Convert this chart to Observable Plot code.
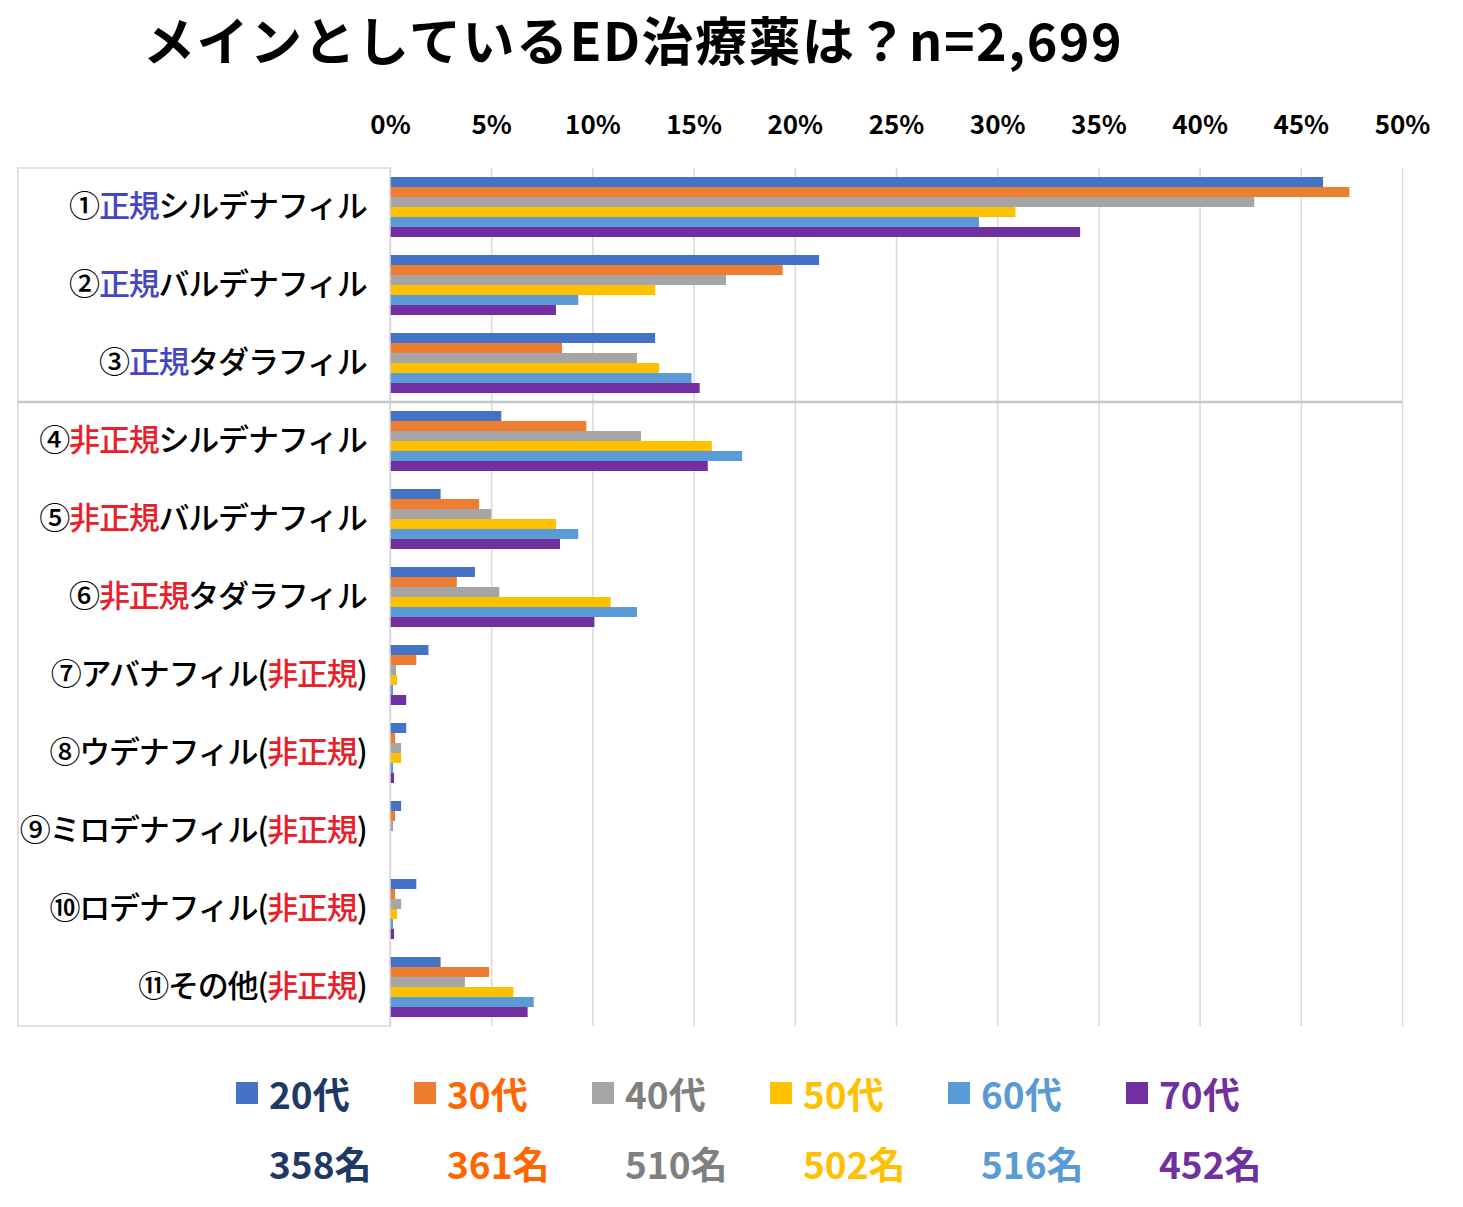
<!DOCTYPE html>
<html><head><meta charset="utf-8">
<script src="https://cdn.jsdelivr.net/npm/d3@7"></script>
<script src="https://cdn.jsdelivr.net/npm/@observablehq/plot@0.6"></script>
<style>
body{margin:0;background:#fff;font-family:"Noto Sans CJK JP",sans-serif;}
#wrap{position:relative;width:1463px;height:1207px;overflow:hidden;}
#title{position:absolute;left:143px;top:3px;font-size:52px;letter-spacing:1.5px;font-weight:700;white-space:nowrap;line-height:72px;color:#000;}
#chart{position:absolute;left:0;top:90px;line-height:0;}
#chart svg{display:block;}
.lg{position:absolute;font-weight:700;font-size:37px;line-height:50px;white-space:nowrap;}
.sq{position:absolute;width:22px;height:22px;}
</style></head>
<body><div id="wrap"><div id="title">メインとしているED治療薬は？n=2,699</div><div id="chart"></div><div id="legend"></div></div>
<script>
const categories = ["①正規シルデナフィル","②正規バルデナフィル","③正規タダラフィル","④非正規シルデナフィル","⑤非正規バルデナフィル","⑥非正規タダラフィル","⑦アバナフィル(非正規)","⑧ウデナフィル(非正規)","⑨ミロデナフィル(非正規)","⑩ロデナフィル(非正規)","⑪その他(非正規)"];
const ages = ["20代","30代","40代","50代","60代","70代"];
const counts = ["358名","361名","510名","502名","516名","452名"];
const v20 = [46.1,21.2,13.1,5.5,2.5,4.2,1.9,0.8,0.55,1.3,2.5];
const v30 = [47.4,19.4,8.5,9.7,4.4,3.3,1.3,0.25,0.25,0.25,4.9];
const v40 = [42.7,16.6,12.2,12.4,5.0,5.4,0.3,0.55,0.15,0.55,3.7];
const v50 = [30.9,13.1,13.3,15.9,8.2,10.9,0.35,0.55,0,0.35,6.1];
const v60 = [29.1,9.3,14.9,17.4,9.3,12.2,0.15,0.15,0,0.15,7.1];
const v70 = [34.1,8.2,15.3,15.7,8.4,10.1,0.8,0.2,0,0.2,6.8];
const xTicks = [0,5,10,15,20,25,30,35,40,45,50];
const barColors = ["#4472c4","#ed7d31","#a5a5a5","#ffc000","#5b9bd5","#7030a0"];
const textColors = ["#203864","#ff6600","#808080","#ffc000","#5b9bd5","#7030a0"];

const series = [v20,v30,v40,v50,v60,v70];
const data = [];
categories.forEach((c,i)=>ages.forEach((a,j)=>data.push({category:c, age:a, value:series[j][i]})));

const chart = Plot.plot({
  width:1463, height:945, marginLeft:390, marginRight:61, marginTop:73, marginBottom:5,
  style:{fontFamily:"'Noto Sans CJK JP', sans-serif", background:"#fff"},
  x:{domain:[0,50], label:null},
  fy:{domain:categories, padding:0, label:null},
  y:{domain:ages, padding:0, insetTop:8, insetBottom:8, axis:null},
  color:{domain:ages, range:barColors},
  marks:[
    Plot.gridX(xTicks, {stroke:"#d9d9d9", strokeOpacity:1, strokeWidth:1.5}),
    Plot.barX(data, {x:"value", y:"age", fy:"category", fill:"age"}),
    Plot.axisX(xTicks, {anchor:"top", tickSize:0, tickPadding:35, tickFormat:d=>d+"%", fontSize:26, fontWeight:700, label:null, fill:"#000"}),
    Plot.axisFy({anchor:"left", tickSize:0, tickPadding:24, fontSize:31, fontWeight:500, label:null, fill:"#000"})
  ]
});
document.getElementById("chart").appendChild(chart);

const svg = d3.select(chart);
svg.selectAll('g[aria-label="fy-axis tick label"] text').each(function(){
  const t = this.textContent;
  const el = d3.select(this);
  el.text(null).style("letter-spacing","-1.2px");
  t.split(/(非正規|正規)/).filter(s=>s.length).forEach(s=>{
    const ts = el.append("tspan").text(s);
    if (s==="正規") ts.attr("fill","#4646c4");
    if (s==="非正規") ts.attr("fill","#e8202a");
  });
});
const fyScale = chart.scale("fy");
const yTop = fyScale.apply(categories[0]);
const yBottom = fyScale.apply(categories[categories.length-1]) + fyScale.bandwidth;
const yDiv = fyScale.apply(categories[3]);
svg.append("rect").attr("x",18).attr("y",yTop).attr("width",372).attr("height",yBottom-yTop)
  .attr("fill","none").attr("stroke","#d9d9d9").attr("stroke-width",1.5);
svg.append("line").attr("x1",18).attr("x2",1402).attr("y1",yDiv).attr("y2",yDiv)
  .attr("stroke","#c8c8c8").attr("stroke-width",2.5);

const lg = document.getElementById("legend");
ages.forEach((a,i)=>{
  const x = 236 + 178*i;
  const sq = document.createElement("div"); sq.className="sq";
  sq.style.left = x+"px"; sq.style.top = "1082px"; sq.style.background = barColors[i];
  lg.appendChild(sq);
  const t1 = document.createElement("div"); t1.className="lg";
  t1.style.left = (x+33)+"px"; t1.style.top = "1068px"; t1.style.color = textColors[i]; t1.textContent = a;
  lg.appendChild(t1);
  const t2 = document.createElement("div"); t2.className="lg";
  t2.style.left = (x+33)+"px"; t2.style.top = "1138px"; t2.style.color = textColors[i]; t2.textContent = counts[i];
  lg.appendChild(t2);
});
</script></body></html>
